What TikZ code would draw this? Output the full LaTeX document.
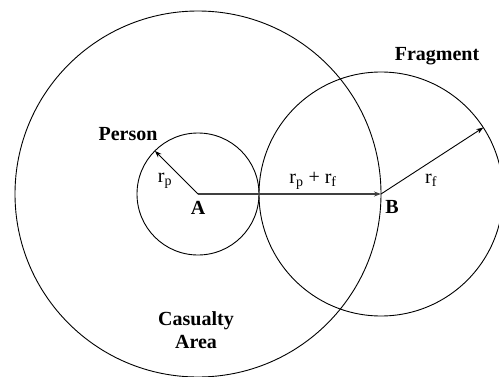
\documentclass[tikz,border=0pt]{standalone}
\usepackage{fontspec}
\setmainfont{Liberation Serif}
\usepackage{tikz}
\usetikzlibrary{arrows.meta}

\begin{document}
\begin{tikzpicture}[x=1pt,y=1pt,line width=0.9pt,
    every node/.style={font=\fontsize{20}{23}\selectfont},
    lbl/.style={font=\fontsize{20}{23}\selectfont\bfseries,align=center},
    tip/.style={-{Stealth[length=7pt,width=5pt]}}]
  \useasboundingbox (0,0) rectangle (499,376);
  \coordinate (A) at (198,182);
  \coordinate (B) at (381,182);
  \coordinate (rp) at ([shift={(135:61)}]A);
  \coordinate (rf) at ([shift={(33:122)}]B);
  % circles
  \draw (A) circle (183);
  \draw (A) circle (61);
  \draw (B) circle (122);
  % radii
  \draw[tip,black!75,line width=1.6pt] (A) -- (B);
  \draw[tip] (A) -- (rp);
  \draw[tip] (B) -- (rf);
  % labels
  \node (rplbl) at (165,195) {r\textsubscript{p}};
  \node (sumlbl) at (313,195) {r\textsubscript{p} + r\textsubscript{f}};
  \node (rflbl) at (431,196) {r\textsubscript{f}};
  \node[lbl] (Albl) at (198,168) {A};
  \node[lbl] (Blbl) at (392,169) {B};
  \node[lbl] (person) at (128,242) {Person};
  \node[lbl] (fragment) at (437,320) {Fragment};
  \node[lbl] (area) at (196,46) {Casualty\\Area};
\end{tikzpicture}
\end{document}
